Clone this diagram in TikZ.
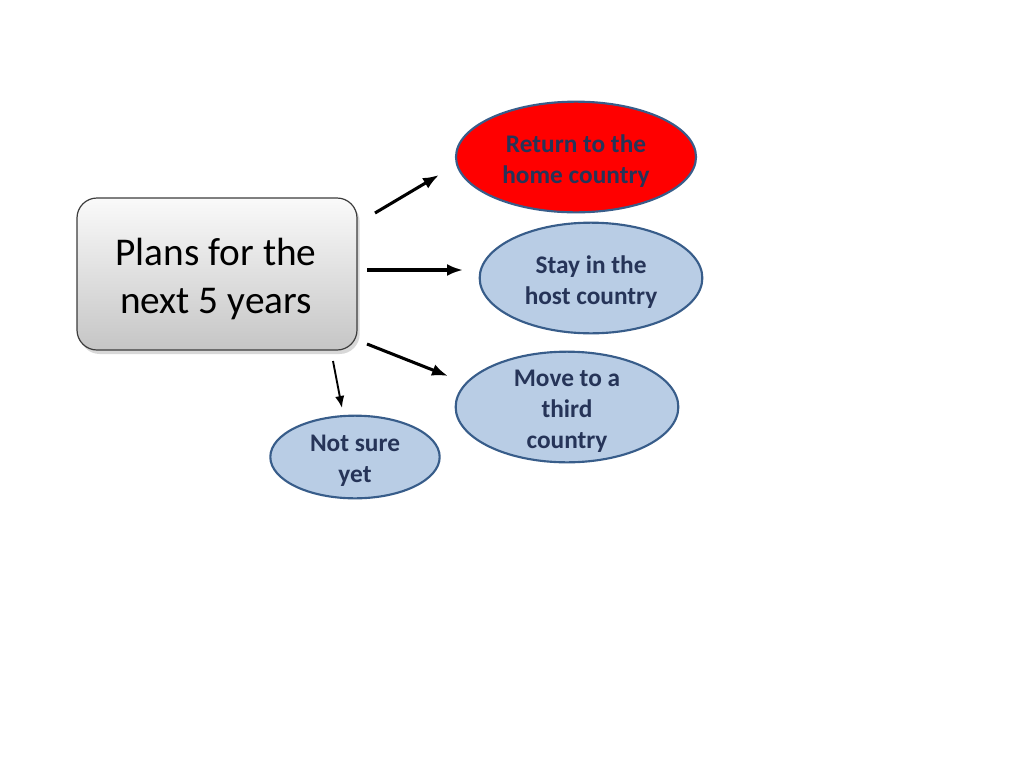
\documentclass[tikz,border=0pt]{standalone}
\usepackage{fontspec}
\setmainfont{Carlito}
\usetikzlibrary{shapes.geometric,arrows.meta,shadows}
\definecolor{txtblue}{RGB}{38,52,88}
\definecolor{ellfill}{RGB}{185,205,229}
\definecolor{ellline}{RGB}{56,93,138}
\definecolor{boxline}{RGB}{60,60,60}
\tikzset{
  oval/.style={ellipse, draw=ellline, line width=1.6pt, fill=ellfill, inner sep=0pt},
  ovaltxt/.style={inner sep=0pt, text=txtblue, font=\fontsize{19}{23.3}\selectfont\bfseries, align=center},
  arr/.style={-{Latex[length=12pt,width=9pt]}, line width=2.3pt, black},
  thinarr/.style={-{Latex[length=9pt,width=7pt]}, line width=1.4pt, black}
}
\begin{document}
\begin{tikzpicture}[x=0.75pt,y=-0.75pt]
\useasboundingbox (0,0) rectangle (1024,768);
\fill[white] (0,0) rectangle (1024,768);
\node[draw=boxline, line width=0.9pt, rounded corners=15pt, top color=gray!4, bottom color=gray!45,
  drop shadow={opacity=0.3, shadow xshift=2pt, shadow yshift=-3pt},
  minimum width=210pt, minimum height=114pt, inner sep=0pt] (plans) at (217,274) {};
\node[align=center, inner sep=0pt, font=\fontsize{29.5}{36}\selectfont] (plansT) at (216,279) {Plans for the\\next 5 years};
\node[oval, fill=red, minimum width=180pt, minimum height=83pt] (ret) at (576,157) {};
\node[ovaltxt] (retT) at (576,161) {Return to the\\home country};
\node[oval, minimum width=167pt, minimum height=83pt] (stay) at (591,278) {};
\node[ovaltxt] (stayT) at (591,282) {Stay in the\\host country};
\node[oval, minimum width=167pt, minimum height=83pt] (move) at (567,407) {};
\node[ovaltxt] (moveT) at (567,411) {Move to a\\third\\country};
\node[oval, minimum width=127pt, minimum height=62pt] (not) at (355,457) {};
\node[ovaltxt] (notT) at (355,461) {Not sure\\yet};
\coordinate (a1s) at (375,213); \coordinate (a1e) at (439,175);
\coordinate (a2s) at (367,270); \coordinate (a2e) at (463,270);
\coordinate (a3s) at (367,344); \coordinate (a3e) at (448,376);
\coordinate (a4s) at (333,361); \coordinate (a4e) at (342,408);
\draw[arr] (a1s) -- (a1e);
\draw[arr] (a2s) -- (a2e);
\draw[arr] (a3s) -- (a3e);
\draw[thinarr] (a4s) -- (a4e);
\end{tikzpicture}
\end{document}
